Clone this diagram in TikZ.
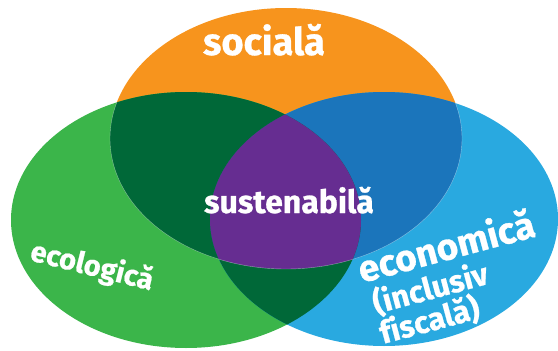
\documentclass[tikz,border=0pt]{standalone}
\usepackage{fontspec}
\setmainfont{Fira Sans}[Ligatures=NoCommon, BoldFeatures={FakeBold=0.8}]
\definecolor{cOrange}{HTML}{F7941D}
\definecolor{cGreen}{HTML}{3BB54A}
\definecolor{cBlue}{HTML}{29A9E0}
\definecolor{cDkGreen}{HTML}{006838}
\definecolor{cDkBlue}{HTML}{1B75BB}
\definecolor{cPurple}{HTML}{662D91}
\tikzset{
  lbl/.style={text=white, font=\bfseries, inner sep=0pt, outer sep=0pt},
  edgeline/.style={draw=white, draw opacity=0.45, line width=0.4pt}
}
\begin{document}
\begin{tikzpicture}[x=1pt, y=-1pt]
\useasboundingbox (0,0) rectangle (558,351);
\def\ellO{(286,138.5) ellipse [x radius=176pt, y radius=130.5pt]}
\def\ellG{(186,220) ellipse [x radius=175pt, y radius=128pt]}
\def\ellB{(384,219) ellipse [x radius=174pt, y radius=127pt]}
% base ellipses
\fill[cOrange] \ellO;
\fill[cGreen] \ellG;
\fill[cBlue] \ellB;
% pairwise overlaps
\begin{scope}
  \clip \ellO;
  \fill[cDkGreen] \ellG;
  \fill[cDkBlue] \ellB;
\end{scope}
\begin{scope}
  \clip \ellG;
  \fill[cDkGreen] \ellB;
\end{scope}
% triple overlap
\begin{scope}
  \clip \ellO;
  \clip \ellG;
  \fill[cPurple] \ellB;
\end{scope}
% thin light edge of the orange ellipse inside the others
\begin{scope}
  \clip \ellG \ellB;
  \path[edgeline] \ellO;
\end{scope}
% labels
\node[lbl, anchor=base, font=\bfseries\fontsize{38}{40}\selectfont] (social) at (264,55) {socială};
\node[lbl, anchor=base, font=\bfseries\fontsize{32}{34}\selectfont] (sust) at (289,213) {sustenabilă};
\node[lbl, anchor=base west, rotate=-14, font=\bfseries\fontsize{29}{31}\selectfont] (eco) at (29,260) {ecologică};
\node[lbl, anchor=base west, rotate=15, font=\bfseries\fontsize{37}{39}\selectfont] (econ) at (362,283) {economică};
\node[lbl, anchor=base west, rotate=15, font=\bfseries\fontsize{31}{33}\selectfont] (incl) at (376,314) {(inclusiv};
\node[lbl, anchor=base west, rotate=15, font=\bfseries\fontsize{31}{33}\selectfont] (fisc) at (383,344) {f\kern0pt iscală)};
\end{tikzpicture}
\end{document}
